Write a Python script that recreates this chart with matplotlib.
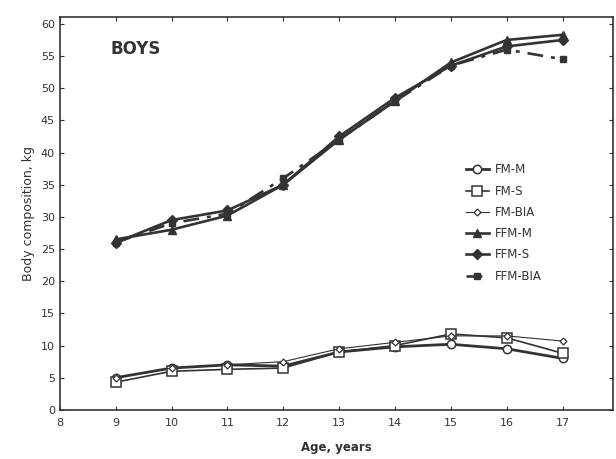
import matplotlib.pyplot as plt
import numpy as np

age = [9, 10, 11, 12, 13, 14, 15, 16, 17]

fm_m = [5.0, 6.5, 7.0, 6.8, 9.0, 9.8, 10.2, 9.5, 8.0]
fm_s = [4.3, 6.0, 6.3, 6.5, 9.0, 10.0, 11.8, 11.2, 8.8]
fm_bia = [5.0, 6.5, 7.0, 7.5, 9.5, 10.5, 11.5, 11.5, 10.7]
ffm_m = [26.5, 28.0, 30.2, 35.0, 42.0, 48.0, 54.0, 57.5, 58.3]
ffm_s = [26.0, 29.5, 31.0, 35.0, 42.5, 48.5, 53.5, 56.5, 57.5]
ffm_bia = [26.0, 29.0, 30.5, 36.0, 42.0, 48.0, 53.5, 56.0, 54.5]

c = '#333333'
fig = plt.figure(figsize=(6.16, 4.59), dpi=100)
ax = fig.add_axes([0.097, 0.107, 0.898, 0.855])

ax.plot(age, fm_m, color=c, lw=2.0, marker='o', ms=6, mfc='white', mec=c, mew=1.1, label='FM-M')
ax.plot(age, fm_s, color=c, lw=1.2, marker='s', ms=7, mfc='white', mec=c, mew=1.1, label='FM-S')
ax.plot(age, fm_bia, color=c, lw=0.8, marker='D', ms=3.5, mfc='white', mec=c, mew=0.9, label='FM-BIA')
ax.plot(age, ffm_m, color=c, lw=1.9, marker='^', ms=6, label='FFM-M')
ax.plot(age, ffm_s, color=c, lw=1.9, marker='D', ms=5, label='FFM-S')
ax.plot(age, ffm_bia, color=c, lw=1.9, ls=(0, (6, 3, 1.5, 3)), marker='s', ms=5, label='FFM-BIA')

ax.set_xlim(8, 17.9)
ax.set_ylim(0, 61)
ax.set_xticks(np.arange(8, 18))
ax.set_yticks(np.arange(0, 61, 5))
ax.tick_params(direction='in', top=True, right=True, labelsize=8, colors=c, length=3)
ax.tick_params(axis='x', pad=6)
for s in ax.spines.values():
    s.set_color(c)
    s.set_linewidth(1.2)

ax.set_xlabel('Age, years', fontsize=8.5, color=c, fontweight='bold', labelpad=9)
ax.set_ylabel('Body composition, kg', fontsize=9, color=c)
ax.text(8.9, 55.3, 'BOYS', fontsize=12, fontweight='bold', color=c)

ax.legend(loc='upper left', bbox_to_anchor=(0.725, 0.64), frameon=False,
          fontsize=8.5, labelcolor=c, handlelength=2.0, labelspacing=0.7,
          handletextpad=0.5, borderaxespad=0)

plt.savefig('out.png')
